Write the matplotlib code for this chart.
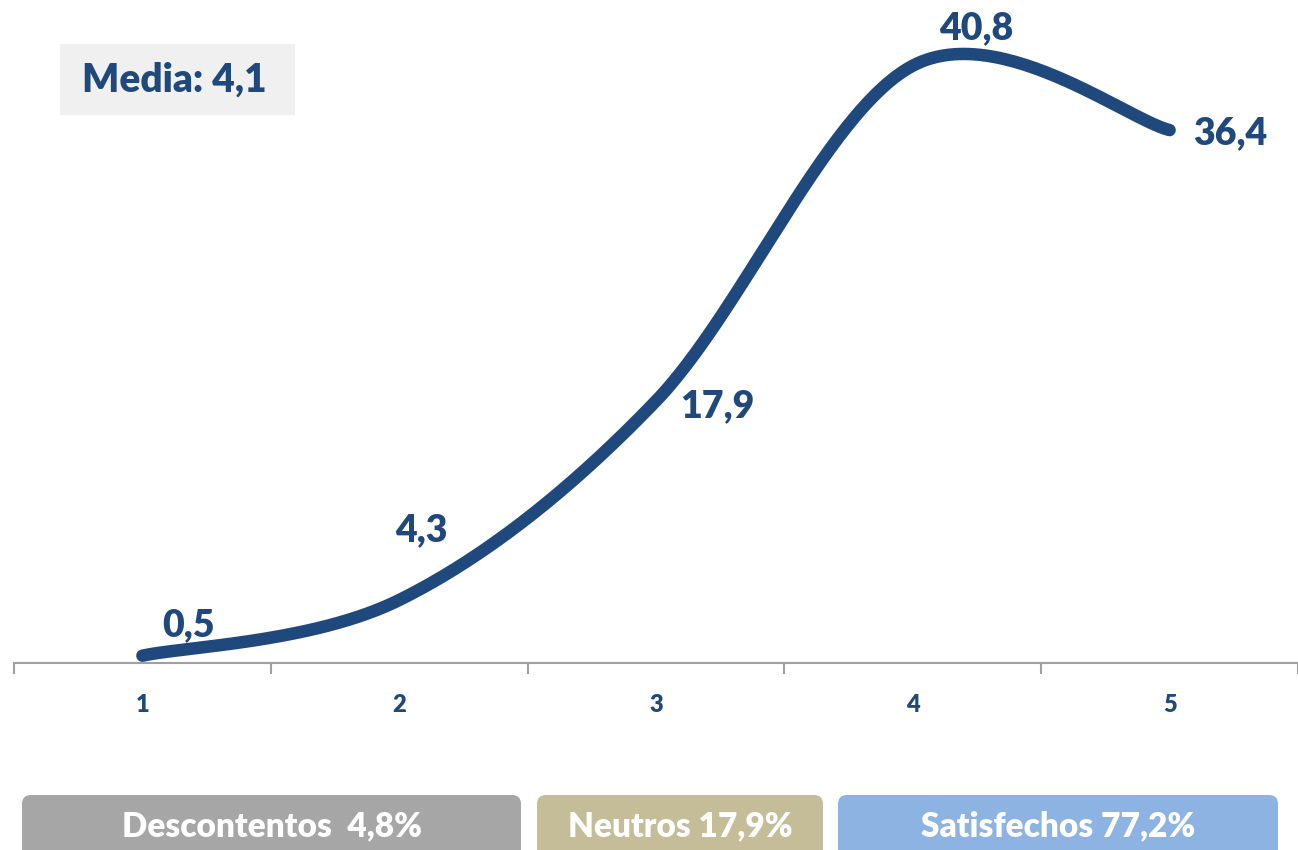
import numpy as np
import matplotlib
matplotlib.use("Agg")
import matplotlib.pyplot as plt
from matplotlib.patches import FancyBboxPatch, Rectangle

# ---- data ----
categories = [1, 2, 3, 4, 5]
values = [0.5, 4.3, 17.9, 40.8, 36.4]
value_labels = ["0,5", "4,3", "17,9", "40,8", "36,4"]
media_text = "Media: 4,1"
group_labels = ["Descontentos  4,8%", "Neutros 17,9%", "Satisfechos 77,2%"]
group_colors = ["#A6A6A6", "#C4BD97", "#8DB3E2"]

LINE = "#1F497D"
FONT = "Lato"

W, H = 1298, 850
fig = plt.figure(figsize=(W / 100, H / 100), dpi=100)

# main axes
ax = fig.add_axes([14 / W, (H - 663) / H, 1 - 14 / W, 663 / H])
ax.set_xlim(0.5, 5.5)
ax.set_ylim(0, 663 / 14.64)


def smooth(xs, ys, n=60):
    """Excel-like smoothed line (Catmull-Rom as cubic Bezier)."""
    P = np.column_stack([xs, ys]).astype(float)
    P = np.vstack([P[0], P, P[-1]])
    out = []
    t = np.linspace(0, 1, n)[:, None]
    for i in range(1, len(P) - 2):
        p0, p1, p2, p3 = P[i - 1], P[i], P[i + 1], P[i + 2]
        b0 = p1
        b1 = p1 + (p2 - p0) / 6
        b2 = p2 - (p3 - p1) / 6
        b3 = p2
        seg = ((1 - t) ** 3) * b0 + 3 * ((1 - t) ** 2) * t * b1 + 3 * (1 - t) * t ** 2 * b2 + t ** 3 * b3
        out.append(seg)
    pts = np.vstack(out)
    return pts[:, 0], pts[:, 1]


sx, sy = smooth(categories, values)
ax.plot(sx, sy, color=LINE, lw=9, solid_capstyle="round", solid_joinstyle="round",
        clip_on=False, zorder=3)

# data labels (offsets in points)
offsets = [(33, 22), (16, 50), (44, -4), (46, 27), (44, -2)]
for x, y, lab, off in zip(categories, values, value_labels, offsets):
    ax.annotate(lab, (x, y), xytext=off, textcoords="offset points",
                ha="center", va="center", fontsize=27, fontweight="heavy",
                color=LINE, family=FONT, zorder=4)

# axes styling
for s in ["top", "right", "left"]:
    ax.spines[s].set_visible(False)
ax.spines["bottom"].set_color("#A0A0A0")
ax.spines["bottom"].set_linewidth(1.5)
ax.set_yticks([])
ax.set_xticks(categories)
ax.set_xticklabels([str(c) for c in categories], fontsize=17, fontweight="heavy",
                   color=LINE, family=FONT)
ax.set_xticks([c - 0.5 for c in categories] + [categories[-1] + 0.5], minor=True)
ax.tick_params(axis="x", which="major", length=0, pad=22)
ax.tick_params(axis="x", which="minor", length=8, width=1.5, color="#A0A0A0", direction="out")
ax.patch.set_alpha(0)

# overlay axes in pixel coordinates for boxes
ov = fig.add_axes([0, 0, 1, 1], zorder=-1)
ov.set_xlim(0, W)
ov.set_ylim(H, 0)
ov.axis("off")

ov.add_patch(Rectangle((60, 44), 235, 71, facecolor="#F0F0F0", edgecolor="none"))
ov2 = fig.add_axes([0, 0, 1, 1], zorder=5)
ov2.set_xlim(0, W)
ov2.set_ylim(H, 0)
ov2.axis("off")
ov2.patch.set_alpha(0)
ov2.text(174, 80, media_text, ha="center", va="center", fontsize=28,
         fontweight="heavy", color=LINE, family=FONT)

boxes = [(22, 521), (537, 823), (838, 1278)]
for (x0, x1), lab, col in zip(boxes, group_labels, group_colors):
    ov2.add_patch(FancyBboxPatch((x0, 795), x1 - x0, 80,
                                 boxstyle="round,pad=0,rounding_size=9",
                                 facecolor=col, edgecolor="none", clip_on=True))
    ov2.text((x0 + x1) / 2, 826, lab, ha="center", va="center", fontsize=24,
             fontweight="heavy", color="white", family=FONT)

fig.savefig("out.png", dpi=100)
